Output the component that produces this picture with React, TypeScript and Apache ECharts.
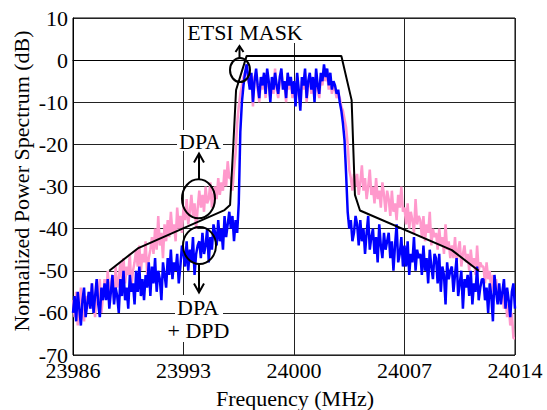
import React, { useEffect, useRef } from "react";
import * as echarts from "echarts";

// Frequency sampling of the measured spectra (MHz)
const FREQ_START = 23986;
const FREQ_STEP = 0.1;

// Axis ticks
const X_TICKS = [23986, 23993, 24000, 24007, 24014];
const Y_MIN = -70;
const Y_MAX = 10;

// DPA (pink) normalized power spectrum, dB, one row per MHz (10 samples)
const dpaDb = [
  -57, -61, -55, -63, -58, -54, -60, -62, -56, -59,
  -55, -59, -53, -58, -61, -54, -57, -52, -60, -56,
  -52, -56, -50, -55, -53, -51, -57, -49, -54, -52,
  -48, -52, -47, -53, -49, -51, -46, -54, -50, -48,
  -45, -49, -44, -50, -46, -48, -43, -51, -47, -45,
  -42, -46, -40, -45, -37, -44, -41, -47, -39, -43,
  -38, -42, -36, -41, -39, -43, -35, -40, -37, -41,
  -35, -38, -33, -39, -36, -32, -37, -34, -40, -35,
  -31, -35, -32, -36, -30, -34, -33, -29, -35, -32,
  -30, -33, -28, -32, -29, -31, -26, -30, -24, -28,
  -28, -31, -26, -22, -15, -11, -8, -6, -4, -3,
  -2, -5, -6, -4, -11, -4, -3, -7, -10, -5,
  -7, -4, -9, -3, -6, -9, -5, -8, -2, -7,
  -9, -5, -3, -6, -6, -10, -4, -7, -5, -9,
  -6, -10, -4, -8, -11, -5, -7, -3, -10, -6,
  -4, -8, -5, -9, -3, -7, -9, -4, -6, -2,
  -5, -3, -7, -4, -8, -6, -7, -9, -8, -9,
  -11, -12, -14, -16, -20, -26, -28, -31, -27, -30,
  -27, -32, -29, -25, -31, -28, -33, -30, -26, -32,
  -30, -34, -28, -33, -31, -35, -29, -32, -36, -31,
  -33, -37, -31, -36, -34, -38, -32, -35, -30, -36,
  -35, -39, -34, -40, -36, -38, -41, -33, -39, -37,
  -38, -42, -37, -43, -39, -41, -36, -44, -40, -42,
  -41, -45, -40, -44, -42, -46, -39, -45, -43, -47,
  -44, -47, -42, -48, -45, -43, -49, -46, -44, -48,
  -46, -50, -45, -49, -47, -51, -44, -50, -48, -49,
  -49, -53, -48, -52, -50, -55, -51, -54, -52, -56,
  -54, -57, -55, -59, -56, -61, -58, -63, -60, -66,
  -66,
];

// DPA + DPD (blue) normalized power spectrum, dB
const dpaDpdDb = [
  -60, -56, -62, -55, -59, -63, -57, -54, -61, -58,
  -55, -59, -53, -60, -56, -52, -58, -61, -54, -57,
  -53, -57, -52, -59, -55, -51, -58, -54, -56, -60,
  -52, -56, -50, -57, -54, -59, -51, -55, -53, -58,
  -50, -55, -49, -56, -52, -57, -51, -54, -48, -56,
  -49, -53, -47, -55, -50, -52, -57, -48, -51, -54,
  -47, -51, -45, -52, -48, -50, -46, -53, -49, -44,
  -46, -49, -43, -50, -45, -48, -42, -51, -46, -44,
  -43, -47, -41, -46, -44, -40, -48, -42, -45, -39,
  -41, -44, -38, -43, -40, -45, -37, -42, -39, -36,
  -40, -37, -43, -38, -41, -34, -17, -10, -6, -3,
  -1, -4, -7, -3, -10, -5, -2, -6, -9, -4,
  -6, -3, -8, -2, -5, -10, -4, -7, -3, -6,
  -8, -4, -2, -7, -5, -9, -3, -6, -4, -8,
  -5, -11, -3, -7, -12, -4, -6, -2, -9, -5,
  -3, -7, -4, -10, -2, -6, -8, -3, -5, -1,
  -4, -2, -6, -3, -7, -5, -6, -8, -7, -10,
  -12, -15, -19, -27, -36, -40, -38, -43, -41, -37,
  -39, -44, -38, -43, -40, -46, -41, -37, -45, -42,
  -40, -46, -42, -48, -39, -44, -47, -41, -45, -43,
  -41, -47, -43, -50, -44, -39, -48, -46, -42, -49,
  -44, -49, -43, -51, -46, -48, -42, -50, -45, -47,
  -46, -51, -44, -50, -47, -53, -45, -49, -52, -46,
  -47, -53, -46, -55, -49, -51, -58, -48, -52, -50,
  -49, -55, -51, -47, -56, -53, -50, -59, -52, -54,
  -51, -56, -50, -58, -53, -55, -49, -57, -54, -52,
  -52, -57, -54, -60, -53, -56, -62, -51, -55, -58,
  -53, -58, -55, -52, -59, -54, -57, -61, -55, -53,
  -59,
];

// ETSI spectrum mask
const maskFreq = [23988.3, 23990.1, 23995.6, 23995.95, 23996.14, 23996.33, 23997.0, 24003.0, 24003.65, 24003.86, 24004.18, 24010.0, 24011.7];
const maskDb = [-50, -44.7, -35.6, -34.4, -21.3, -7.1, 1, 1, -9.5, -32, -35.7, -45.1, -50];

const FONT = "'Liberation Serif', 'Times New Roman', Times, serif";

export default function App() {
  const ref = useRef<HTMLDivElement>(null);

  useEffect(() => {
    if (!ref.current) return;
    const chart = echarts.init(ref.current, undefined, { renderer: "svg" });

    const x0 = X_TICKS[0];
    const span = X_TICKS[X_TICKS.length - 1] - x0;
    const interval = X_TICKS[1] - X_TICKS[0];

    const dpaData = dpaDb.map((v, i) => [Math.round(i * FREQ_STEP * 10) / 10 + (FREQ_START - x0), v]);
    const dpdData = dpaDpdDb.map((v, i) => [Math.round(i * FREQ_STEP * 10) / 10 + (FREQ_START - x0), v]);
    const maskData = maskFreq.map((f, i) => [f - x0, maskDb[i]]);

    const black = "#000";
    const txt = (text: string, x: number, y: number, extra: any = {}) => ({
      type: "text",
      z: 110,
      x,
      y,
      style: {
        text,
        fill: black,
        fontFamily: FONT,
        fontSize: 22,
        align: "center",
        verticalAlign: "middle",
        textAlign: "center",
        textVerticalAlign: "middle",
      },
      ...extra,
    });
    const whiteBox = (x: number, y: number, w: number, h: number) => ({
      type: "rect",
      z: 105,
      shape: { x, y, width: w, height: h },
      style: { fill: "#fff" },
    });
    const ellipse = (cx: number, cy: number, rx: number, ry: number) => ({
      type: "ellipse",
      z: 110,
      shape: { cx, cy, rx, ry },
      style: { fill: "none", stroke: black, lineWidth: 2 },
    });
    const arrow = (x: number, y1: number, y2: number, hw: number, hh: number) => {
      const dir = y2 < y1 ? 1 : -1;
      return [
        {
          type: "line",
          z: 110,
          shape: { x1: x, y1, x2: x, y2 },
          style: { stroke: black, lineWidth: 2 },
        },
        {
          type: "polyline",
          z: 110,
          shape: { points: [[x - hw, y2 + dir * hh], [x, y2], [x + hw, y2 + dir * hh]] },
          style: { stroke: black, lineWidth: 2, fill: "none" },
        },
      ];
    };

    const option: any = {
      animation: false,
      textStyle: { fontFamily: FONT },
      grid: {
        left: 73,
        right: 32,
        top: 18,
        bottom: 55,
        show: true,
        borderColor: black,
        borderWidth: 1,
        backgroundColor: "transparent",
      },
      xAxis: {
        type: "value",
        min: 0,
        max: span,
        interval,
        axisLine: { show: true, lineStyle: { color: black, width: 1 } },
        axisTick: { show: false },
        splitLine: { show: true, lineStyle: { color: "#222", width: 1 } },
        axisLabel: {
          color: black,
          fontFamily: FONT,
          fontSize: 22,
          lineHeight: 14,
          margin: 8,
          formatter: (v: number) => String(v + x0),
        },
      },
      yAxis: {
        type: "value",
        min: Y_MIN,
        max: Y_MAX,
        interval: 10,
        axisLine: { show: true, lineStyle: { color: black, width: 1 } },
        axisTick: { show: false },
        splitLine: { show: true, lineStyle: { color: "#222", width: 1 } },
        axisLabel: {
          color: black,
          fontFamily: FONT,
          fontSize: 22,
          lineHeight: 14,
          margin: 5,
        },
      },
      series: [
        {
          name: "DPA",
          type: "line",
          data: dpaData,
          showSymbol: false,
          symbol: "none",
          lineStyle: { color: "#FF99CC", width: 2.5 },
          z: 2,
        },
        {
          name: "DPA + DPD",
          type: "line",
          data: dpdData,
          showSymbol: false,
          symbol: "none",
          lineStyle: { color: "#0000FF", width: 2.5 },
          z: 3,
        },
        {
          name: "ETSI MASK",
          type: "line",
          data: maskData,
          showSymbol: false,
          symbol: "none",
          lineStyle: { color: black, width: 2 },
          z: 4,
        },
      ],
      graphic: [
        whiteBox(187, 19, 119, 24),
        txt("ETSI MASK", 245, 32),
        whiteBox(177, 130, 46, 21),
        txt("DPA", 200, 141),
        whiteBox(175, 295, 48, 23),
        txt("DPA", 198, 307),
        whiteBox(164, 318, 69, 24),
        txt("+ DPD", 198.5, 330),
        ellipse(240, 70, 10, 12),
        ellipse(198.5, 198.8, 16.5, 19.5),
        ellipse(199.5, 245.5, 16.5, 18.5),
        ...arrow(239.5, 58, 46, 4, 6),
        ...arrow(199, 179.3, 153.5, 5, 9),
        ...arrow(199, 264, 292.5, 5, 9),
        txt("Frequency (MHz)", 295, 398),
        txt("Normalized Power Spectrum (dB)", 21.5, 181, { rotation: Math.PI / 2 }),
      ],
    };

    chart.setOption(option);
    return () => chart.dispose();
  }, []);

  return (
    <div
      ref={ref}
      style={{ position: "absolute", left: 0, top: 0, width: 547, height: 410, background: "#fff" }}
    />
  );
}
